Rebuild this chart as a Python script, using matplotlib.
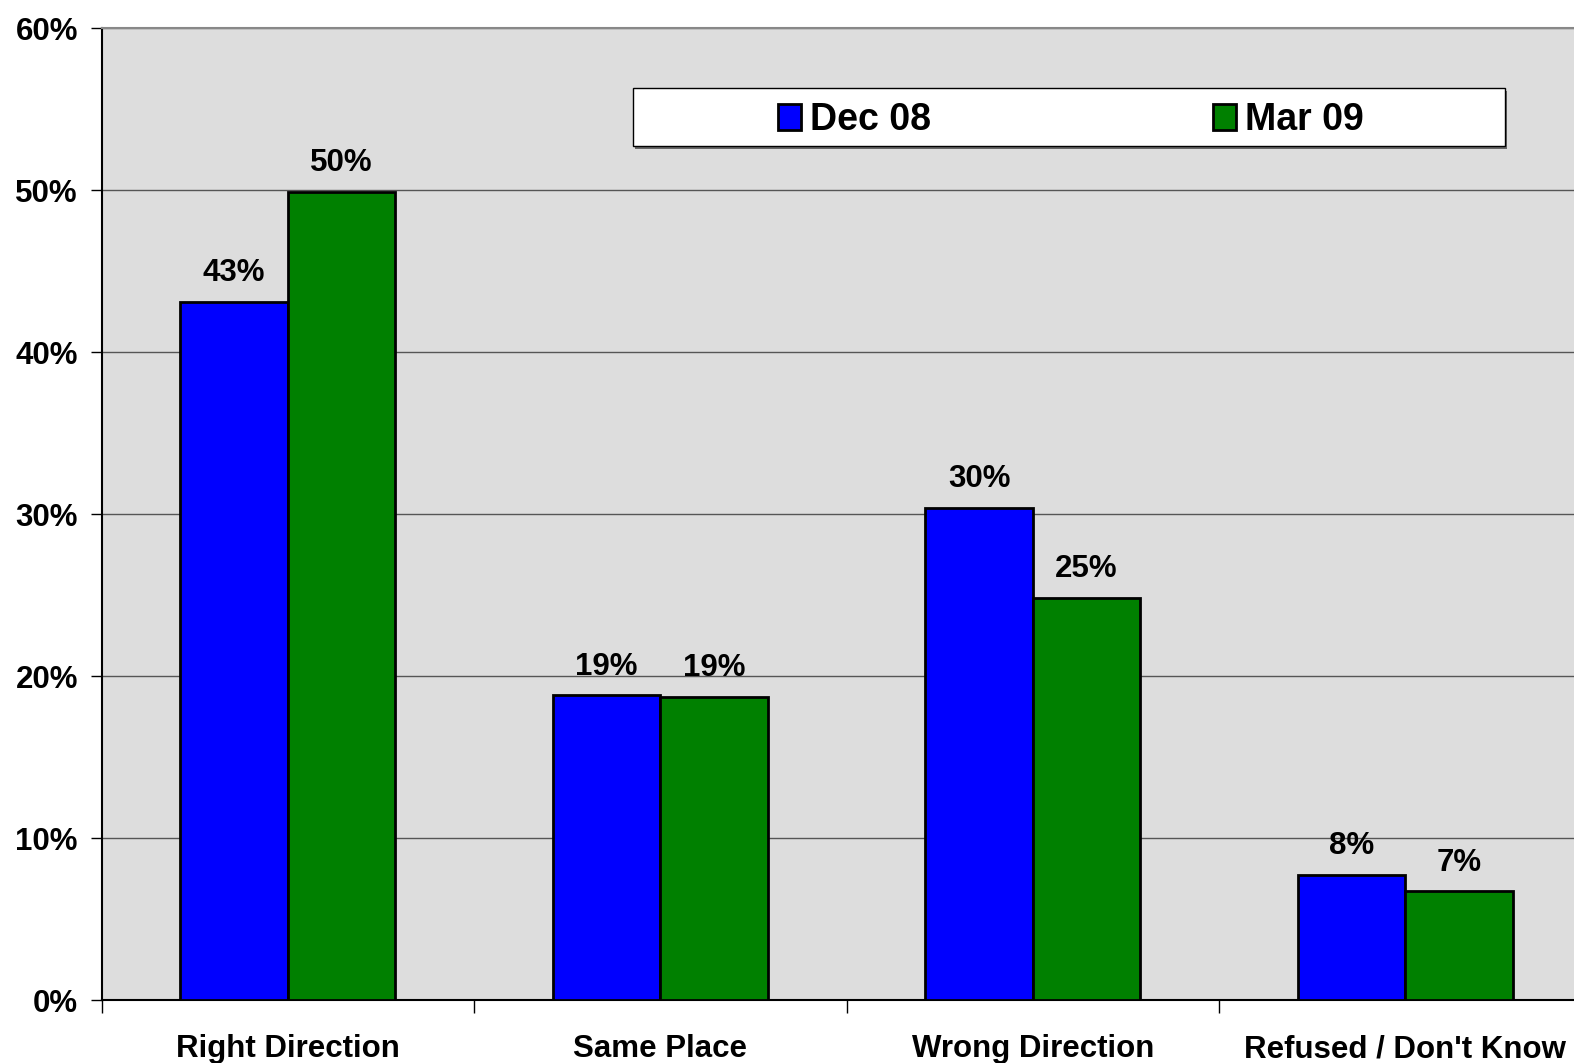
import matplotlib.pyplot as plt
from matplotlib.patches import Rectangle, Patch
import numpy as np

plt.rcParams['font.family'] = ['Liberation Sans', 'DejaVu Sans']
plt.rcParams['font.weight'] = 'bold'

categories = ['Right Direction', 'Same Place', 'Wrong Direction', "Refused / Don't Know"]
dec08 = [43.1, 18.8, 30.4, 7.7]
mar09 = [49.9, 18.7, 24.8, 6.7]
series_names = ['Dec 08', 'Mar 09']
yticks = [0, 10, 20, 30, 40, 50, 60]

fig = plt.figure(figsize=(15.74, 10.63), dpi=100)
# axes run past the right edge of the picture, as in the original
ax = fig.add_axes([101.5 / 1574, 63 / 1063, 1490 / 1574, 972 / 1063])
ax.set_facecolor('#DDDDDD')

x = np.arange(len(categories))
w = 0.288
b1 = ax.bar(x - w / 2, dec08, w, color='#0000FF', edgecolor='black', linewidth=2, zorder=3)
b2 = ax.bar(x + w / 2, mar09, w, color='#008000', edgecolor='black', linewidth=2, zorder=3)

for bars, vals in ((b1, dec08), (b2, mar09)):
    for bar, v in zip(bars, vals):
        ax.annotate(f'{round(v):d}%', (bar.get_x() + bar.get_width() / 2, v),
                    xytext=(0, 10), textcoords='offset points', ha='center', va='bottom',
                    fontsize=22.5, fontweight='bold')

ax.set_xlim(-0.5, 3.5)
ax.set_ylim(0, 60)
ax.set_yticks(yticks)
ax.set_yticklabels([f'{t}%' for t in yticks])
ax.yaxis.grid(True, color='#555555', linewidth=1, zorder=0)
ax.set_axisbelow(True)

ax.set_xticks(x)
ax.set_xticklabels(categories)
ax.set_xticks(np.arange(-0.5, 4, 1), minor=True)
ax.tick_params(axis='x', which='major', length=0, pad=24.5, labelsize=22.5)
ax.tick_params(axis='x', which='minor', length=9, width=1, direction='out')
ax.tick_params(axis='y', length=8, width=1, pad=9, labelsize=22.5)

ax.spines['top'].set_color('#888888')
ax.spines['top'].set_linewidth(1.5)
ax.spines['right'].set_visible(False)
ax.spines['left'].set_linewidth(1.5)
ax.spines['bottom'].set_linewidth(1.5)

# legend box with shadow
lx0, ly0 = 633 / 1574, (1063 - 146) / 1063
lw, lh = 872 / 1574, 58 / 1063
fig.patches.append(Rectangle((lx0 + 2 / 1574, ly0 - 3 / 1063), lw, lh, transform=fig.transFigure,
                             facecolor='#666666', edgecolor='none', zorder=4))
fig.patches.append(Rectangle((lx0, ly0), lw, lh, transform=fig.transFigure,
                             facecolor='white', edgecolor='black', linewidth=1, zorder=5))
handles = [Patch(facecolor='#0000FF', edgecolor='black', linewidth=2),
           Patch(facecolor='#008000', edgecolor='black', linewidth=2)]
leg = fig.legend(handles, series_names, loc='center', ncol=2,
                 bbox_to_anchor=((633 + 438) / 1574, (1063 - 120) / 1063),
                 frameon=False, handlelength=0.62, handleheight=0.72,
                 handletextpad=0.25, columnspacing=7.5, prop={'weight': 'bold', 'size': 27})
leg.set_zorder(6)

fig.savefig('out.png', dpi=100)
